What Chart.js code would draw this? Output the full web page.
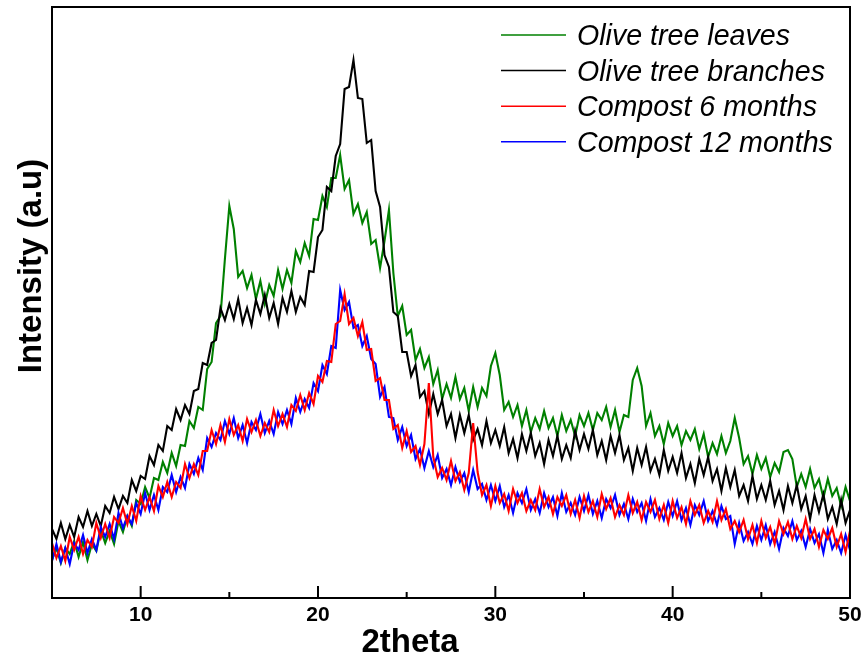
<!DOCTYPE html>
<html>
<head>
<meta charset="utf-8">
<script src="https://cdn.jsdelivr.net/npm/chart.js@4.4.0/dist/chart.umd.min.js"></script>
<style>
  html, body { margin: 0; padding: 0; background: #fff; }
  #wrap { width: 865px; height: 657px; }
</style>
</head>
<body>
<div id="wrap"><canvas id="xrdChart" width="865" height="657"></canvas></div>
<script>
// XRD scan: 5-50 deg 2theta, step 0.25 deg, intensity in a.u.
const scanStart = 5;
const scanStep = 0.25;

const seriesNames = ['Olive tree leaves', 'Olive tree branches', 'Compost 6 months', 'Compost 12 months'];
const seriesColors = ['#008000', '#000000', '#ff0000', '#0000ff'];
const xTicks = [10, 20, 30, 40, 50];
const xMinorTicks = [15, 25, 35, 45];

const leaves = [
  38,50,35,50,44,57,41,56,38,54,47,68,55,67,54,77,66,82,72,98,
  94,111,100,120,118,136,125,145,132,153,152,177,170,191,188,229,236,275,282,339,
  392,369,321,327,310,323,299,317,294,313,302,328,309,328,315,347,336,355,342,379,
  378,402,391,420,420,443,409,418,384,394,375,386,354,358,330,357,388,325,282,292,
  263,268,238,249,230,241,214,228,199,214,200,221,199,210,187,211,191,210,202,232,
  245,223,188,196,181,193,172,188,166,180,169,187,170,180,162,183,167,178,162,183,
  172,185,168,185,178,191,171,188,166,183,181,218,230,212,172,185,162,172,154,175,
  162,172,153,167,158,169,149,164,141,155,144,162,145,157,180,160,134,142,124,143,
  129,140,121,135,126,146,148,139,111,124,111,129,110,119,100,119,102,110,92,111,97
];

const branches = [
  69,59,75,59,73,61,81,71,87,72,84,72,92,85,101,89,102,95,118,107,
  122,119,142,133,153,147,172,168,189,178,193,184,207,209,235,233,255,258,290,278,
  294,279,299,275,290,273,298,284,303,280,295,274,300,286,307,286,301,293,327,326,
  361,368,411,407,442,454,509,511,538,500,499,455,458,407,391,343,331,286,282,246,
  246,222,233,201,207,184,204,184,198,172,184,160,183,165,183,158,169,153,177,155,
  168,152,171,145,159,140,164,147,165,142,155,134,158,142,162,139,153,140,167,148,
  164,149,168,143,157,138,162,145,163,138,150,127,150,133,151,127,139,123,148,127,
  141,125,145,120,134,115,139,123,141,117,129,107,130,111,128,102,113,97,122,99,
  113,98,117,93,107,88,112,95,113,89,102,79,103,86,104,79,91,74,98,75,
  88
];

const compost6 = [
  55,40,52,37,61,48,61,44,58,51,75,60,74,60,81,75,90,74,92,77,
  102,88,101,87,112,101,116,101,116,110,134,120,134,123,147,147,168,154,173,156,
  179,163,173,157,179,166,178,162,175,166,188,172,184,171,193,187,203,188,205,194,
  222,216,237,236,274,277,304,274,280,262,276,248,249,217,220,198,198,169,173,150,
  167,146,152,133,154,215,141,121,130,118,137,117,126,108,125,175,126,103,113,92,
  112,95,104,87,109,95,105,87,98,88,109,91,101,84,101,92,103,84,98,80,
  102,86,97,81,104,89,100,81,93,83,103,85,96,78,96,86,98,79,93,75,
  97,80,91,74,97,83,93,75,87,76,97,78,89,69,77,66,78,59,73,55,
  77,60,71,54,77,64,76,59,72,60,79,59,69,51,68,59,70,51,64,46,67
];

const compost12 = [
  37,54,36,50,34,55,48,63,45,59,48,71,61,74,59,85,70,82,74,95,
  84,105,88,103,88,111,106,123,106,121,110,134,124,140,128,160,151,165,158,177,
  164,180,160,173,155,176,168,184,165,177,164,186,174,188,174,200,186,199,190,215,
  207,233,224,252,250,308,288,296,270,273,252,262,239,234,201,211,181,180,158,171,
  152,163,139,149,130,147,131,143,120,129,113,131,116,125,106,128,109,114,98,113,
  97,112,91,103,85,105,95,109,88,99,85,105,91,101,82,105,86,95,83,101,
  87,103,84,97,80,99,90,103,83,94,79,99,86,95,77,99,81,90,78,96,
  82,97,78,90,73,93,83,97,77,87,73,92,79,82,54,75,57,66,54,72,
  58,73,54,66,49,70,62,77,58,67,51,69,55,64,45,68,49,58,45,63,48
];

const allSeries = [leaves, branches, compost6, compost12];
// red drawn on top, green at the back
const drawOrder = [3, 2, 0, 1];

function toPoints(values) {
  return values.map((v, i) => ({ x: scanStart + i * scanStep, y: v }));
}

// frame, inward ticks, tick labels, axis titles and legend
const frameAndLabels = {
  id: 'frameAndLabels',
  afterDatasetsDraw(chart) {
    const { ctx, chartArea: a, scales } = chart;
    const sx = scales.x;
    ctx.save();
    ctx.strokeStyle = '#000';
    ctx.lineWidth = 2;
    ctx.strokeRect(a.left, a.top, a.right - a.left, a.bottom - a.top);

    ctx.beginPath();
    xTicks.forEach(t => {
      const px = sx.getPixelForValue(t);
      ctx.moveTo(px, a.bottom);
      ctx.lineTo(px, a.bottom - 12);
    });
    xMinorTicks.forEach(t => {
      const px = sx.getPixelForValue(t);
      ctx.moveTo(px, a.bottom);
      ctx.lineTo(px, a.bottom - 6);
    });
    ctx.stroke();

    ctx.fillStyle = '#000';
    ctx.font = 'bold 21px "Liberation Sans", Arial, sans-serif';
    ctx.textAlign = 'center';
    ctx.textBaseline = 'alphabetic';
    xTicks.forEach(t => {
      ctx.fillText(String(t), sx.getPixelForValue(t), a.bottom + 23);
    });

    ctx.font = 'bold 33px "Liberation Sans", Arial, sans-serif';
    ctx.fillText('2theta', 410, a.bottom + 54);

    ctx.save();
    ctx.translate(41, 266);
    ctx.rotate(-Math.PI / 2);
    ctx.fillText('Intensity (a.u)', 0, 0);
    ctx.restore();

    // legend
    ctx.font = 'italic 28.6px "Liberation Sans", Arial, sans-serif';
    ctx.textAlign = 'left';
    seriesNames.forEach((name, i) => {
      const y = 35 + i * 35.6;
      ctx.strokeStyle = seriesColors[i];
      ctx.lineWidth = 1.5;
      ctx.beginPath();
      ctx.moveTo(501, y);
      ctx.lineTo(566, y);
      ctx.stroke();
      ctx.fillStyle = '#000';
      ctx.fillText(name, 577, y + 10);
    });
    ctx.restore();
  }
};

new Chart(document.getElementById('xrdChart').getContext('2d'), {
  type: 'line',
  data: {
    datasets: allSeries.map((vals, i) => ({
      label: seriesNames[i],
      data: toPoints(vals),
      borderColor: seriesColors[i],
      backgroundColor: seriesColors[i],
      borderWidth: 2.1,
      pointRadius: 0,
      tension: 0,
      fill: false,
      order: drawOrder[i]
    }))
  },
  options: {
    responsive: false,
    animation: false,
    devicePixelRatio: 1,
    layout: { padding: { left: 52, top: 7, right: 15, bottom: 59 } },
    plugins: {
      legend: { display: false },
      tooltip: { enabled: false }
    },
    scales: {
      x: { type: 'linear', min: 5, max: 50, display: false },
      y: { min: 0, max: 591, display: false }
    }
  },
  plugins: [frameAndLabels]
});
</script>
</body>
</html>
